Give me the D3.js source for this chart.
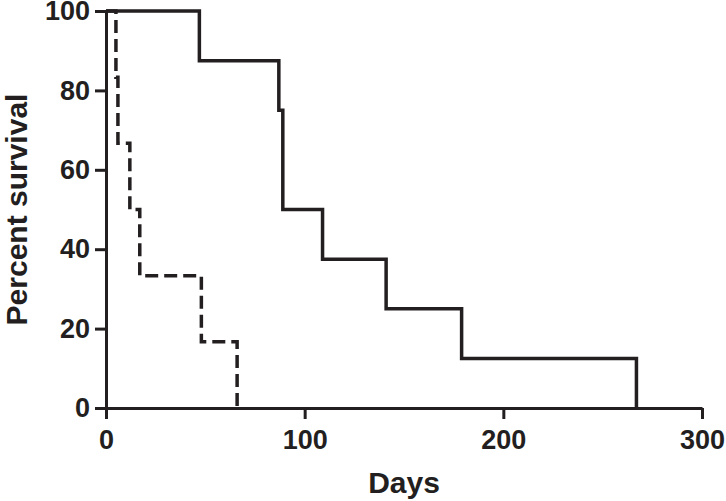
<!DOCTYPE html>
<html lang="en">
<head>
  <meta charset="UTF-8">
  <title>Percent survival</title>
  <script src="https://d3js.org/d3.v7.min.js"></script>
  <style>
    body {
      margin: 0;
      background: #fff;
      font-family: 'Liberation Sans', Arial, sans-serif;
    }
    .axis path, .axis line {
      stroke: #231f20;
      stroke-width: 3px;
    }
    .axis text {
      font-family: 'Liberation Sans', Arial, sans-serif;
      font-size: 27px;
      font-weight: bold;
      fill: #231f20;
    }
  </style>
</head>
<body>
  <div id="chart"></div>
  <script>
    // Kaplan-Meier steps
    const solidDays = [0, 47, 87, 89, 109, 141, 179, 267];
    const solidSurvival = [100, 87.5, 75, 50, 37.5, 25, 12.5, 0];
    const dashedDays = [0, 5, 6, 12, 17, 48, 66];
    const dashedSurvival = [100, 83.3, 66.7, 50, 33.3, 16.7, 0];

    const xTicks = [0, 100, 200, 300];
    const yTicks = [0, 20, 40, 60, 80, 100];

    const width = 726, height = 501;
    const margin = { top: 11, right: 24, bottom: 93, left: 106 };

    const svg = d3.select("#chart")
      .append("svg")
      .attr("width", width)
      .attr("height", height);

    const x = d3.scaleLinear()
      .domain([0, 300])
      .range([margin.left, width - margin.right]);

    const y = d3.scaleLinear()
      .domain([0, 100])
      .range([height - margin.bottom, margin.top]);

    // axes
    svg.append("g")
      .attr("class", "axis")
      .attr("transform", `translate(0, ${y(0)})`)
      .call(d3.axisBottom(x).tickValues(xTicks).tickSize(11).tickSizeOuter(0).tickPadding(11));

    svg.append("g")
      .attr("class", "axis")
      .attr("transform", `translate(${x(0)}, 0)`)
      .call(d3.axisLeft(y).tickValues(yTicks).tickSize(11).tickSizeOuter(0).tickPadding(5));

    // survival curves
    const line = d3.line()
      .x(d => x(d[0]))
      .y(d => y(d[1]))
      .curve(d3.curveStepAfter);

    svg.append("path")
      .datum(d3.zip(solidDays, solidSurvival))
      .attr("fill", "none")
      .attr("stroke", "#231f20")
      .attr("stroke-width", 3.5)
      .attr("d", line);

    svg.append("path")
      .datum(d3.zip(dashedDays, dashedSurvival))
      .attr("fill", "none")
      .attr("stroke", "#231f20")
      .attr("stroke-width", 3.5)
      .attr("stroke-dasharray", "13 6")
      .attr("d", line);

    // axis titles
    svg.append("text")
      .attr("x", (x(0) + x(300)) / 2)
      .attr("y", 493)
      .attr("text-anchor", "middle")
      .style("font-size", "30px")
      .style("font-weight", "bold")
      .style("fill", "#231f20")
      .text("Days");

    svg.append("text")
      .attr("transform", `translate(27, ${(y(0) + y(100)) / 2}) rotate(-90)`)
      .attr("text-anchor", "middle")
      .style("font-size", "30px")
      .style("font-weight", "bold")
      .style("fill", "#231f20")
      .text("Percent survival");
  </script>
</body>
</html>
